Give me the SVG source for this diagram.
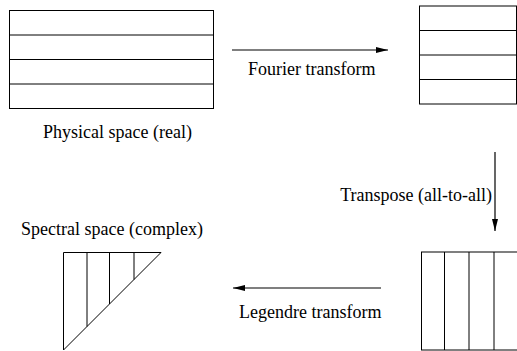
<svg xmlns="http://www.w3.org/2000/svg" width="517" height="351" viewBox="0 0 517 351">
<defs>
<marker id="ah" markerWidth="12" markerHeight="6" refX="12" refY="3" orient="auto" markerUnits="userSpaceOnUse">
<path d="M0,0 L12,3 L0,6 Z" fill="#000"/>
</marker>
<style>
.s{fill:none;stroke:#000;stroke-width:1}
.t{font-family:"Liberation Serif","Times New Roman",serif;font-size:18px;fill:#000}
.c{fill:none;stroke:#000;stroke-width:1.2;marker-end:url(#ah)}
</style>
</defs>
<rect width="517" height="351" fill="#fff"/>
<g id="physical">
<rect class="s" x="9.5" y="10.5" width="204" height="98"/>
<path class="s" d="M9.5,35 H213.5 M9.5,59.5 H213.5 M9.5,84 H213.5"/>
<text class="t" x="43" y="138">Physical space (real)</text>
</g>
<g id="fourier-space">
<rect class="s" x="419.5" y="6" width="97" height="98"/>
<path class="s" d="M419.5,30.5 H516.5 M419.5,55 H516.5 M419.5,79.5 H516.5"/>
</g>
<g id="transposed">
<rect class="s" x="421.5" y="252" width="98" height="98"/>
<path class="s" d="M444.5,252 V350 M469,252 V350 M494,252 V350"/>
</g>
<g id="spectral">
<path class="s" d="M63.5,252.5 H161 L63.5,350 Z"/>
<path class="s" d="M87,252.5 V326.5 M109.5,252.5 V304 M134,252.5 V279.5"/>
<text class="t" x="21" y="235">Spectral space (complex)</text>
</g>
<g id="connectors">
<line class="c" x1="232" y1="50" x2="388" y2="50"/>
<text class="t" x="248" y="75">Fourier transform</text>
<line class="c" x1="495" y1="152" x2="495" y2="231"/>
<text class="t" x="492" y="201" text-anchor="end">Transpose (all-to-all)</text>
<line class="c" x1="381" y1="288" x2="233" y2="288"/>
<text class="t" x="239" y="318">Legendre transform</text>
</g>
</svg>
